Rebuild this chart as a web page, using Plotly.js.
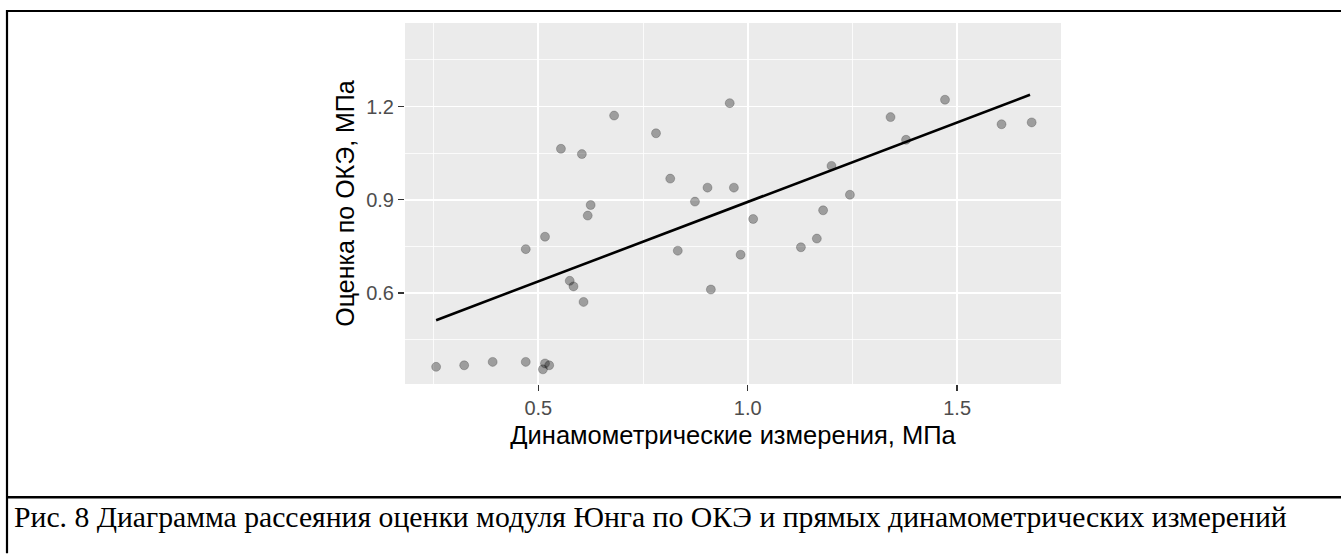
<!DOCTYPE html>
<html>
<head>
<meta charset="utf-8">
<script src="https://cdn.plot.ly/plotly-3.0.1.min.js"></script>
<style>html,body{margin:0;padding:0;background:#fff;}#chart{width:1341px;height:554px;}</style>
</head>
<body>
<div id="chart"></div>
<script>
// Data
const dynX = [0.957, 0.681, 0.781, 0.554, 0.604, 0.815, 0.904, 0.967, 0.874, 0.625,
              0.618, 1.180, 1.013, 0.516, 0.470, 0.833, 0.983, 1.127, 1.165, 0.575,
              0.584, 0.608, 0.912, 0.256, 0.323, 0.391, 0.470, 0.516, 0.526, 0.511,
              1.244, 1.200, 1.341, 1.378, 1.471, 1.606, 1.678];
const okeY = [1.211, 1.171, 1.114, 1.064, 1.047, 0.968, 0.939, 0.939, 0.894, 0.883,
              0.849, 0.866, 0.838, 0.781, 0.741, 0.736, 0.723, 0.747, 0.775, 0.639,
              0.621, 0.571, 0.611, 0.362, 0.367, 0.378, 0.378, 0.373, 0.367, 0.354,
              0.916, 1.009, 1.166, 1.093, 1.222, 1.143, 1.149];
const fitX = [0.256, 1.674];
const fitY = [0.512, 1.238];
const xTickVals = [0.5, 1.0, 1.5];
const xTickText = ['0.5', '1.0', '1.5'];
const yTickVals = [0.6, 0.9, 1.2];
const yTickText = ['0.6', '0.9', '1.2'];
const xTitle = 'Динамометрические измерения, МПа';
const yTitle = 'Оценка по ОКЭ, МПа';
const caption = 'Рис. 8 Диаграмма рассеяния оценки модуля Юнга по ОКЭ и прямых динамометрических измерений';

const W = 1341, H = 554;
const M = {l: 405, r: 280, t: 23, b: 169.5};
const pw = W - M.l - M.r, ph = H - M.t - M.b;
const px2x = p => (p - M.l) / pw;
const py2y = p => (H - M.b - p) / ph;

const sans = 'Liberation Sans, Arial, sans-serif';

const traces = [
  {
    x: dynX, y: okeY, type: 'scatter', mode: 'markers',
    marker: {size: 9, color: 'rgba(0,0,0,0.33)', line: {color: 'rgba(0,0,0,0.2)', width: 1}},
    hoverinfo: 'x+y', showlegend: false
  },
  {
    x: fitX, y: fitY, type: 'scatter', mode: 'lines',
    line: {color: '#000000', width: 2.6}, showlegend: false
  }
];

const lineShape = (x0, y0, x1, y1, w) => ({
  type: 'line', xref: 'paper', yref: 'paper',
  x0: px2x(x0), x1: px2x(x1), y0: py2y(y0), y1: py2y(y1),
  line: {color: '#000', width: w}, layer: 'above'
});

const layout = {
  width: W, height: H,
  margin: M,
  paper_bgcolor: '#ffffff',
  plot_bgcolor: '#EBEBEB',
  showlegend: false,
  xaxis: {
    range: [0.1817, 1.748],
    tickmode: 'array', tickvals: xTickVals, ticktext: xTickText,
    ticks: 'outside', ticklen: 6, tickwidth: 1.3, tickcolor: '#333333',
    tickfont: {family: sans, size: 20, color: '#4D4D4D'},
    showgrid: true, gridcolor: '#ffffff', gridwidth: 1.7,
    minor: {tickmode: 'array', tickvals: [0.25, 0.75, 1.25], showgrid: true, gridcolor: '#ffffff', gridwidth: 0.8},
    zeroline: false, showline: false,
    title: {text: xTitle, font: {family: sans, size: 25.5, color: '#000'}, standoff: 8},
    automargin: false, fixedrange: true
  },
  yaxis: {
    range: [0.3068, 1.469],
    tickmode: 'array', tickvals: yTickVals, ticktext: yTickText,
    ticks: 'outside', ticklen: 6, tickwidth: 1.3, tickcolor: '#333333',
    tickfont: {family: sans, size: 20, color: '#4D4D4D'},
    showgrid: true, gridcolor: '#ffffff', gridwidth: 1.7,
    minor: {tickmode: 'array', tickvals: [0.45, 0.75, 1.05, 1.35], showgrid: true, gridcolor: '#ffffff', gridwidth: 0.8},
    zeroline: false, showline: false,
    title: {text: yTitle, font: {family: sans, size: 25, color: '#000'}, standoff: 4},
    automargin: false, fixedrange: true
  },
  shapes: [
    lineShape(6, 11, W, 11, 2.2),
    lineShape(7, 10, 7, H, 2.2),
    lineShape(6, 498, W, 498, 2.5)
  ],
  annotations: [
    {
      xref: 'paper', yref: 'paper', x: px2x(12), y: py2y(518),
      xanchor: 'left', yanchor: 'middle', showarrow: false,
      text: caption,
      font: {family: 'Liberation Serif, Times New Roman, serif', size: 29.7, color: '#000'}
    }
  ]
};

Plotly.newPlot('chart', traces, layout, {displayModeBar: false, staticPlot: true});
</script>
</body>
</html>
